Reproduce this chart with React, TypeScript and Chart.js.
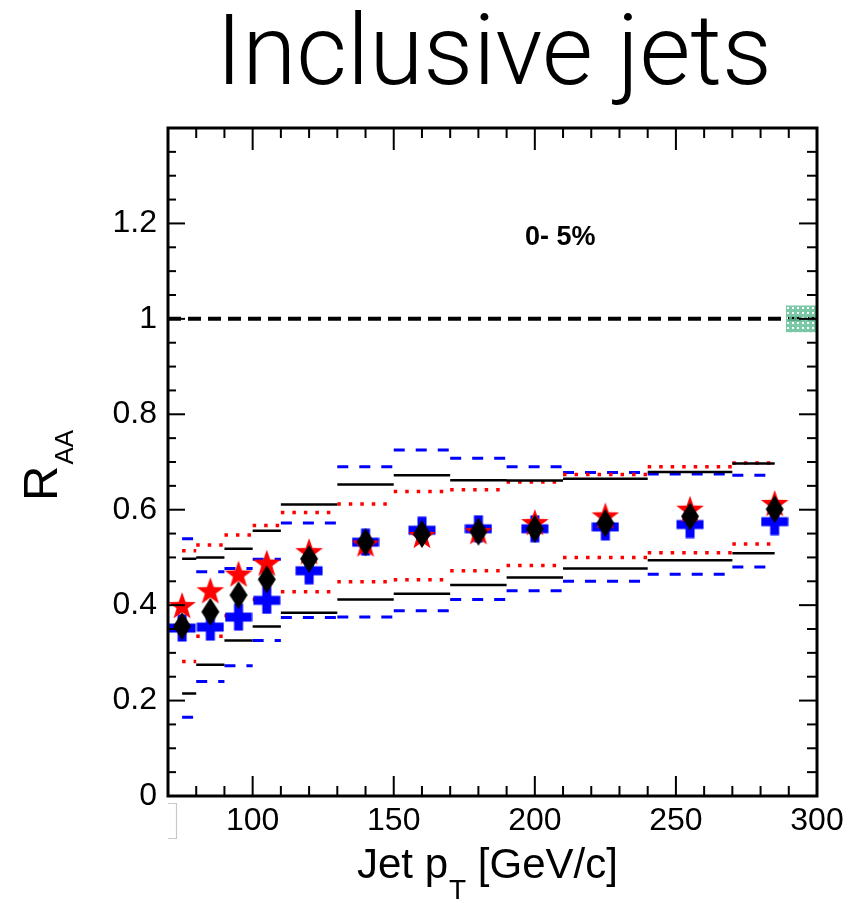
import React, { useEffect, useRef } from 'react';
import { Chart, registerables } from 'chart.js';

Chart.register(...registerables);

// ---- data ----
const binCenters = [75, 85, 95, 105, 120, 140, 160, 180, 200, 225, 255, 285];
const binLo = [75, 80, 90, 100, 110, 130, 150, 170, 190, 210, 240, 270];
const binHi = [80, 90, 100, 110, 130, 150, 170, 190, 210, 240, 270, 285];

const redStarVals = [0.398, 0.429, 0.464, 0.487, 0.511, 0.527, 0.545, 0.553, 0.572, 0.586, 0.600, 0.612];
const blackDiamondVals = [0.356, 0.386, 0.421, 0.454, 0.497, 0.532, 0.549, 0.554, 0.560, 0.572, 0.586, 0.601];
const blueCrossVals = [0.352, 0.354, 0.375, 0.410, 0.472, 0.532, 0.557, 0.560, 0.560, 0.564, 0.569, 0.575];

const blackSysUp = [0.497, 0.500, 0.518, 0.556, 0.611, 0.653, 0.672, 0.662, 0.661, 0.665, 0.679, 0.697];
const blackSysLow = [0.215, 0.275, 0.326, 0.355, 0.384, 0.412, 0.424, 0.442, 0.458, 0.477, 0.494, 0.509];
const redSysUp = [0.514, 0.526, 0.547, 0.567, 0.594, 0.612, 0.638, 0.642, 0.658, 0.674, 0.690, 0.698];
const redSysLow = [0.282, 0.335, 0.378, 0.412, 0.428, 0.449, 0.453, 0.472, 0.483, 0.500, 0.510, 0.528];
const blueSysUp = [0.539, 0.470, 0.477, 0.496, 0.572, 0.690, 0.725, 0.708, 0.690, 0.678, 0.675, 0.672];
const blueSysLow = [0.165, 0.240, 0.273, 0.326, 0.374, 0.375, 0.388, 0.412, 0.430, 0.450, 0.465, 0.480];

const unityLine = [{ x: 70, y: 1 }, { x: 300, y: 1 }];
const normBox = { xLo: 289, xHi: 300, yLo: 0.972, yHi: 1.028 };

const xTickValues = [100, 150, 200, 250, 300];
const yTickValues = [0, 0.2, 0.4, 0.6, 0.8, 1, 1.2];

const titleText = 'Inclusive jets';
const centralityText = '0- 5%';

// ---- helpers ----
function segments(lo: number[], hi: number[], up: number[], low: number[]) {
  const pts: { x: number; y: number | null }[] = [];
  for (let i = 0; i < lo.length; i++) {
    pts.push({ x: lo[i], y: up[i] }, { x: hi[i], y: up[i] }, { x: hi[i], y: null });
    pts.push({ x: lo[i], y: low[i] }, { x: hi[i], y: low[i] }, { x: hi[i], y: null });
  }
  return pts;
}

function pointsOf(xs: number[], ys: number[]) {
  return xs.map((x, i) => ({ x, y: ys[i] }));
}

function makeStar() {
  const c = document.createElement('canvas');
  c.width = 32; c.height = 32;
  const g = c.getContext('2d')!;
  const R = 14.5, r = 5.8, cx = 16, cy = 16.5;
  g.beginPath();
  for (let k = 0; k < 10; k++) {
    const ang = -Math.PI / 2 + (k * Math.PI) / 5;
    const rad = k % 2 === 0 ? R : r;
    const px = cx + rad * Math.cos(ang), py = cy + rad * Math.sin(ang);
    if (k === 0) g.moveTo(px, py); else g.lineTo(px, py);
  }
  g.closePath();
  g.fillStyle = '#ff0000';
  g.fill();
  return c;
}

function makeDiamond() {
  const c = document.createElement('canvas');
  c.width = 20; c.height = 30;
  const g = c.getContext('2d')!;
  g.beginPath();
  g.moveTo(10, 1); g.lineTo(19, 15); g.lineTo(10, 29); g.lineTo(1, 15);
  g.closePath();
  g.fillStyle = '#000000';
  g.fill();
  return c;
}

function makeCross() {
  const c = document.createElement('canvas');
  c.width = 28; c.height = 28;
  const g = c.getContext('2d')!;
  g.fillStyle = '#0000ff';
  g.fillRect(9.5, 0.5, 9, 27);
  g.fillRect(0.5, 9.5, 27, 9);
  return c;
}

function makeHatch(ctx: CanvasRenderingContext2D) {
  const c = document.createElement('canvas');
  c.width = 5; c.height = 5;
  const g = c.getContext('2d')!;
  g.fillStyle = 'rgba(100,190,150,0.85)';
  g.fillRect(0, 0, 5, 5);
  g.clearRect(2, 2, 2, 2);
  return ctx.createPattern(c, 'repeat');
}

const decorPlugin = {
  id: 'decor',
  afterDatasetsDraw(chart: any) {
    const { ctx, chartArea: a, scales } = chart;
    const x = scales.x, y = scales.y;
    ctx.save();
    // normalisation box
    const pat = makeHatch(ctx);
    const bx0 = x.getPixelForValue(normBox.xLo), bx1 = x.getPixelForValue(normBox.xHi);
    const by0 = y.getPixelForValue(normBox.yHi), by1 = y.getPixelForValue(normBox.yLo);
    if (pat) { ctx.fillStyle = pat; ctx.fillRect(bx0, by0, bx1 - bx0, by1 - by0); }

    // inward ticks
    ctx.strokeStyle = '#000';
    ctx.lineWidth = 2;
    const seg = (x0: number, y0: number, x1: number, y1: number) => {
      ctx.beginPath(); ctx.moveTo(x0, y0); ctx.lineTo(x1, y1); ctx.stroke();
    };
    for (let v = 80; v < 300; v += 10) {
      const px = x.getPixelForValue(v);
      const major = v % 50 === 0;
      seg(px, a.bottom, px, a.bottom - (major ? 20 : 10));
      seg(px, a.top, px, a.top + (major ? 22 : 10));
    }
    for (let k = 1; k < 28; k++) {
      const py = y.getPixelForValue(k * 0.05);
      const major = k % 4 === 0;
      seg(a.left, py, a.left + (major ? 17 : 8), py);
      seg(a.right, py, a.right - (major ? 18 : 10), py);
    }
    ctx.lineWidth = 3;
    ctx.strokeRect(a.left, a.top, a.right - a.left, a.bottom - a.top);
    ctx.restore();
  },
  afterDraw(chart: any) {
    const { ctx } = chart;
    ctx.save();
    ctx.fillStyle = '#000';
    ctx.textBaseline = 'alphabetic';
    ctx.textAlign = 'left';

    // title
    ctx.font = '300 100px Roboto';
    const w100 = ctx.measureText(titleText).width;
    const size = (100 * 556) / w100;
    ctx.font = `300 ${size}px Roboto`;
    ctx.fillText(titleText, 216, 84);

    // centrality label
    ctx.font = 'bold 27px "Liberation Sans"';
    ctx.fillText(centralityText, 525, 245);

    // x title
    ctx.font = '42px "Liberation Sans"';
    const p1 = 'Jet p';
    ctx.fillText(p1, 357, 878);
    let cx = 357 + ctx.measureText(p1).width + 1;
    ctx.font = '28px "Liberation Sans"';
    ctx.fillText('T', cx, 899);
    cx += ctx.measureText('T').width;
    ctx.font = '42px "Liberation Sans"';
    ctx.fillText(' [GeV/c]', cx, 878);

    // y title (rotated)
    ctx.translate(57, 501);
    ctx.rotate(-Math.PI / 2);
    ctx.font = '49px "Liberation Sans"';
    ctx.fillText('R', 0, 0);
    const rw = ctx.measureText('R').width;
    ctx.font = '26px "Liberation Sans"';
    ctx.fillText('AA', rw + 1, 16);
    ctx.setTransform(1, 0, 0, 1, 0, 0);

    // faint bracket artifact below axis
    ctx.strokeStyle = '#c8c8c8';
    ctx.lineWidth = 1.2;
    ctx.beginPath();
    ctx.moveTo(168, 803.5); ctx.lineTo(176.5, 803.5); ctx.lineTo(176.5, 838.5); ctx.lineTo(168, 838.5);
    ctx.stroke();
    ctx.restore();
  },
};

export default function App() {
  const ref = useRef<HTMLCanvasElement>(null);
  useEffect(() => {
    document.body.style.margin = '0';
    const canvas = ref.current!;
    const star = makeStar();
    const diamond = makeDiamond();
    const cross = makeCross();
    const lineDs = (data: any[], color: string, width: number, dash: number[], order: number) => ({
      type: 'line' as const,
      data,
      borderColor: color,
      borderWidth: width,
      borderDash: dash,
      borderCapStyle: 'butt' as const,
      pointRadius: 0,
      spanGaps: false,
      fill: false,
      order,
    });
    const markerDs = (data: any[], img: HTMLCanvasElement, order: number) => ({
      type: 'scatter' as const,
      data,
      pointStyle: img,
      pointRadius: 14,
      showLine: false,
      order,
    });
    const chart = new Chart(canvas, {
      type: 'scatter',
      data: {
        datasets: [
          markerDs(pointsOf(binCenters, blackDiamondVals), diamond, 0),
          markerDs(pointsOf(binCenters, redStarVals), star, 1),
          markerDs(pointsOf(binCenters, blueCrossVals), cross, 2),
          lineDs(segments(binLo, binHi, blackSysUp, blackSysLow), '#000000', 2.5, [], 3),
          lineDs(segments(binLo, binHi, redSysUp, redSysLow), '#ff0000', 3.5, [3.5, 8], 4),
          lineDs(segments(binLo, binHi, blueSysUp, blueSysLow), '#0000ff', 3, [11, 11], 5),
          lineDs(unityLine, '#000000', 4, [13, 7], 6),
        ] as any,
      },
      options: {
        responsive: false,
        animation: false,
        events: [],
        layout: { padding: { left: 0, top: 128, right: 33, bottom: 0 } },
        plugins: { legend: { display: false }, tooltip: { enabled: false }, title: { display: false } },
        scales: {
          x: {
            type: 'linear',
            min: 70,
            max: 300,
            grid: { display: false, drawTicks: false },
            border: { display: false },
            afterBuildTicks: (s: any) => { s.ticks = xTickValues.map((v) => ({ value: v })); },
            afterFit: (s: any) => { s.height = 107; },
            ticks: {
              color: '#000',
              font: { family: '"Liberation Sans"', size: 32 },
              padding: 6,
              maxRotation: 0,
              autoSkip: false,
              callback: (v: any) => String(v),
            },
          },
          y: {
            type: 'linear',
            min: 0,
            max: 1.4,
            grid: { display: false, drawTicks: false },
            border: { display: false },
            afterBuildTicks: (s: any) => { s.ticks = yTickValues.map((v) => ({ value: v })); },
            afterFit: (s: any) => { s.width = 168; },
            ticks: {
              color: '#000',
              font: { family: '"Liberation Sans"', size: 32 },
              padding: 11,
              autoSkip: false,
              callback: (v: any) => String(Math.round(Number(v) * 10) / 10),
            },
          },
        },
      } as any,
      plugins: [decorPlugin],
    });
    return () => chart.destroy();
  }, []);
  return (
    <div style={{ width: 850, height: 903 }}>
      <canvas ref={ref} width={850} height={903} style={{ display: 'block' }} />
    </div>
  );
}
